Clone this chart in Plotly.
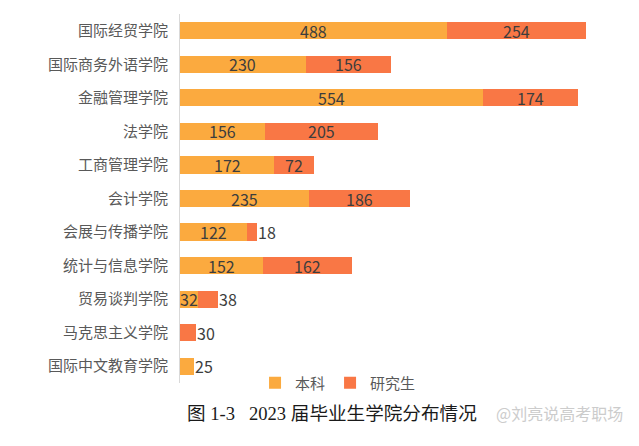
import plotly.graph_objects as go

categories = ["国际经贸学院", "国际商务外语学院", "金融管理学院", "法学院", "工商管理学院",
              "会计学院", "会展与传播学院", "统计与信息学院", "贸易谈判学院", "马克思主义学院",
              "国际中文教育学院"]
undergrad = [488, 230, 554, 156, 172, 235, 122, 152, 32, 0, 25]
graduate = [254, 156, 174, 205, 72, 186, 18, 162, 38, 30, 0]
series_names = ["本科", "研究生"]

C_UG = "#FBAA3F"
C_GR = "#F97745"
LABEL_FONT = dict(family="Noto Sans CJK SC", size=16, color="#3d3d3d")

fig = go.Figure()
fig.add_trace(go.Bar(y=categories, x=undergrad, orientation="h", name=series_names[0],
                     marker=dict(color=C_UG, line=dict(width=0))))
fig.add_trace(go.Bar(y=categories, x=graduate, orientation="h", name=series_names[1],
                     marker=dict(color=C_GR, line=dict(width=0))))

annotations = []
for cat, u, g in zip(categories, undergrad, graduate):
    total = u + g
    segs = [(0, u, g == 0), (u, g, True)]
    for base, val, is_last in segs:
        if val <= 0:
            continue
        if is_last and val < 40:
            annotations.append(dict(x=total, y=cat, xref="x", yref="y", text=str(val),
                                    showarrow=False, xanchor="left", xshift=-1,
                                    font=LABEL_FONT))
        else:
            annotations.append(dict(x=base + val / 2, y=cat, xref="x", yref="y", text=str(val),
                                    showarrow=False, xanchor="center", font=LABEL_FONT))

annotations.append(dict(x=0.012, y=-0.082, xref="paper", yref="paper",
                        text="图 1-3   2023 届毕业生学院分布情况", showarrow=False,
                        xanchor="left", yanchor="middle",
                        font=dict(family="Liberation Serif, Noto Sans CJK SC", size=18.6, color="#1a1a1a")))
annotations.append(dict(x=0.715, y=-0.082, xref="paper", yref="paper",
                        text="@刘亮说高考职场", showarrow=False,
                        xanchor="left", yanchor="middle",
                        font=dict(family="Noto Sans CJK SC", size=16, color="#cccccc")))

fig.update_layout(
    width=639, height=446,
    barmode="stack", bargap=0.49,
    plot_bgcolor="white", paper_bgcolor="white",
    margin=dict(l=180, r=20, t=14, b=63),
    font=dict(family="Noto Sans CJK SC", size=15, color="#595959"),
    xaxis=dict(range=[0, 802], visible=False, fixedrange=True),
    yaxis=dict(categoryorder="array", categoryarray=categories, autorange="reversed",
               showline=True, linecolor="#d9d9d9", linewidth=1, ticks="",
               showgrid=False, ticklabelstandoff=8,
               tickfont=dict(family="Noto Sans CJK SC", size=15, color="#595959")),
    legend=dict(orientation="h", x=0.36, y=0.0, xanchor="center", yanchor="middle",
                traceorder="normal",
                font=dict(family="Noto Sans CJK SC", size=15, color="#595959"),
                itemwidth=30, tracegroupgap=0, bgcolor="rgba(0,0,0,0)"),
    annotations=annotations,
    showlegend=True,
)

fig.write_html("out.html")
